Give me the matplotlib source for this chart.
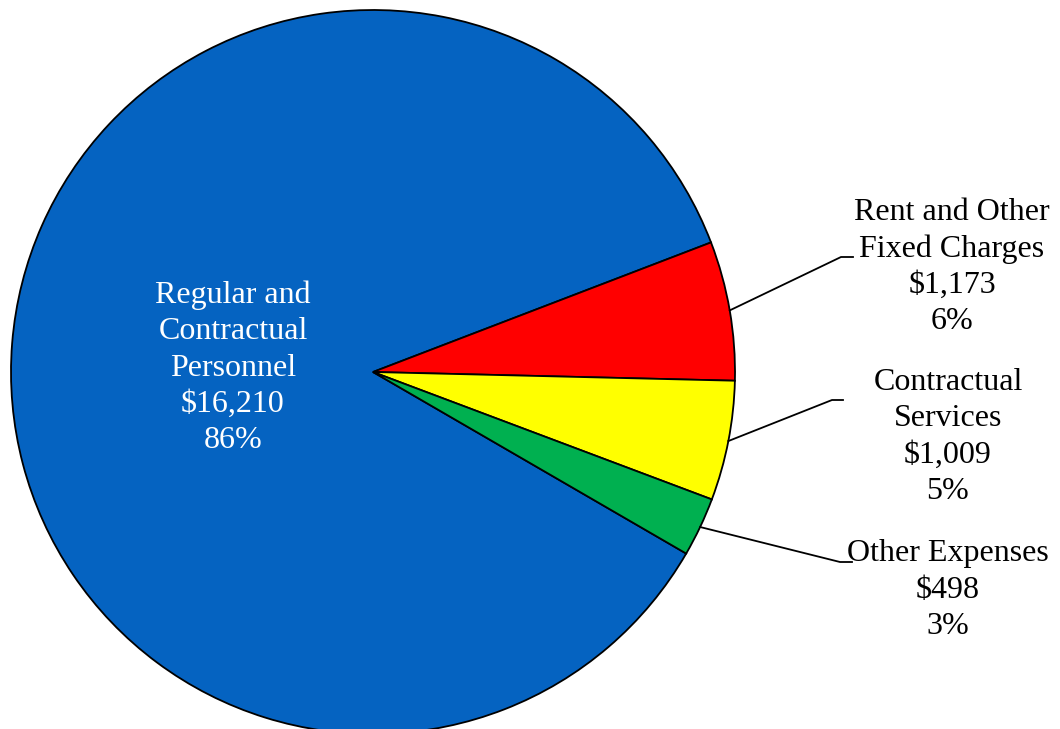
#!/usr/bin/env python3
import numpy
import matplotlib
matplotlib.use("Agg")
import matplotlib.pyplot as pyplot

W, H = 1060, 729
DPI = 100

categories = ["Regular and\nContractual\nPersonnel", "Rent and Other\nFixed Charges",
              "Contractual\nServices", "Other Expenses"]
amounts = [16210, 1173, 1009, 498]
colors = ["#0563C1", "#FF0000", "#FFFF00", "#00B050"]

# pie geometry in image pixels (y measured from top)
CENTER = (373, 372)
RADIUS = 362
START = -30.1

# label anchors and leader elbows, image pixels (y from top)
labelPos = [(233, 368), (952, 267), (948, 437), (948, 590)]
elbows = [None, ((841, 257), (853, 257)), ((832, 400), (843, 400)), ((840, 562), (852, 562))]

pyplot.rcParams["font.family"] = ["Liberation Serif", "DejaVu Serif"]


def fy(y):
    return H - y


total = sum(amounts)
figure = pyplot.figure(figsize=(W / DPI, H / DPI), dpi=DPI)
ax = figure.add_axes((0, 0, 1, 1))
ax.set_xlim(0, W)
ax.set_ylim(0, H)
ax.set_aspect("equal")
ax.axis("off")

wedges, _ = ax.pie(amounts, colors=colors, startangle=START, counterclock=False,
                   center=(CENTER[0], fy(CENTER[1])), radius=RADIUS,
                   wedgeprops=dict(edgecolor="black", linewidth=1.3))
ax.set_xlim(0, W)
ax.set_ylim(0, H)

for i, (name, amount) in enumerate(zip(categories, amounts)):
    pct = round(100.0 * amount / total)
    text = "%s\n$%s\n%d%%" % (name, format(amount, ","), pct)
    color = "white" if i == 0 else "black"
    ax.text(labelPos[i][0], fy(labelPos[i][1]), text, ha="center", va="center",
            color=color, fontsize=23, linespacing=1.33)
    if elbows[i] is not None:
        w = wedges[i]
        mid = numpy.deg2rad((w.theta1 + w.theta2) / 2.0)
        x0 = CENTER[0] + RADIUS * numpy.cos(mid)
        y0 = fy(CENTER[1]) + RADIUS * numpy.sin(mid)
        (x1, y1), (x2, y2) = elbows[i]
        ax.plot([x0, x1, x2], [y0, fy(y1), fy(y2)], color="black", lw=1.3)

figure.savefig("out.png", dpi=DPI)
